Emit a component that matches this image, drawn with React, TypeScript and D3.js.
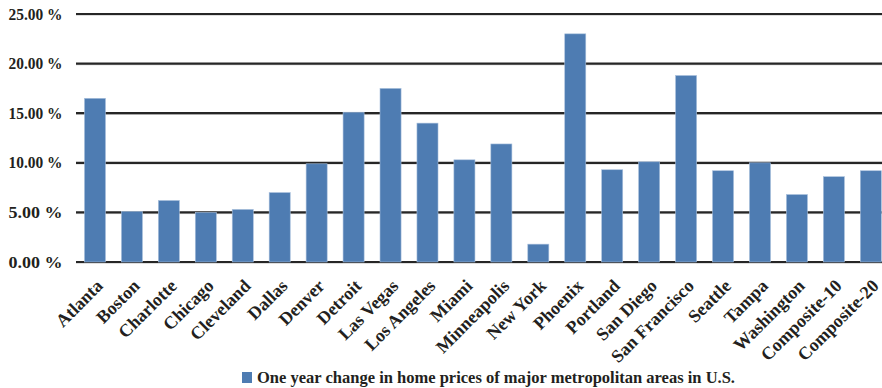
import React from "react";
import * as d3 from "d3";

const categories = ["Atlanta","Boston","Charlotte","Chicago","Cleveland","Dallas","Denver","Detroit","Las Vegas","Los Angeles","Miami","Minneapolis","New York","Phoenix","Portland","San Diego","San Francisco","Seattle","Tampa","Washington","Composite-10","Composite-20"];
const values = [16.5,5.1,6.2,5.0,5.3,7.0,9.9,15.1,17.5,14.0,10.3,11.9,1.8,23.0,9.3,10.1,18.8,9.2,10.0,6.8,8.6,9.2];
const yTicks = [0,5,10,15,20,25];
const seriesName = "One year change in home prices of major metropolitan areas in U.S.";

const W = 882, H = 388;
const FONT = "'Liberation Serif', 'Times New Roman', serif";

export default function App() {
  const x = d3.scaleBand<string>().domain(categories).range([76.5, 889.3]).paddingInner(0.43).paddingOuter(0.215);
  const y = d3.scaleLinear().domain([0, 25]).range([262, 14]);
  const fmt = (v: number) => v.toFixed(2) + " %";
  return (
    <svg width={W} height={H} style={{ position: "absolute", left: 0, top: 0, background: "#fff" }} fontFamily={FONT}>
      {yTicks.map((t) => (
        <g key={t}>
          <line x1={76} x2={W} y1={y(t) + 1.2} y2={y(t) + 1.2} stroke="#d0d0d0" strokeWidth={1} />
          <line x1={76} x2={W} y1={y(t)} y2={y(t)} stroke="#262626" strokeWidth={2.2} />
          <text x={62.5} y={y(t) + 5.5} textAnchor="end" fontSize={16} fontWeight="bold" fill="#231f20" textLength={54} lengthAdjust="spacingAndGlyphs">{fmt(t)}</text>
        </g>
      ))}
      {categories.map((c, i) => (
        <rect key={c} x={x(c)} y={y(values[i])} width={x.bandwidth()} height={y(0) - y(values[i])} fill="#4e7cb2" stroke="#a9c0dd" strokeWidth={0.6} />
      ))}
      {categories.map((c) => {
        const cx = (x(c) as number) + x.bandwidth() / 2;
        return (
          <text key={c} transform={`translate(${cx + 9},${287}) rotate(-45)`} textAnchor="end" fontSize={18} fontWeight="bold" fill="#231f20">{c}</text>
        );
      })}
      <rect x={242} y={372} width={10} height={11} fill="#4e7cb2" />
      <text x={257} y={383} fontSize={16} fontWeight="bold" fill="#231f20" textLength={478} lengthAdjust="spacingAndGlyphs">{seriesName}</text>
    </svg>
  );
}
